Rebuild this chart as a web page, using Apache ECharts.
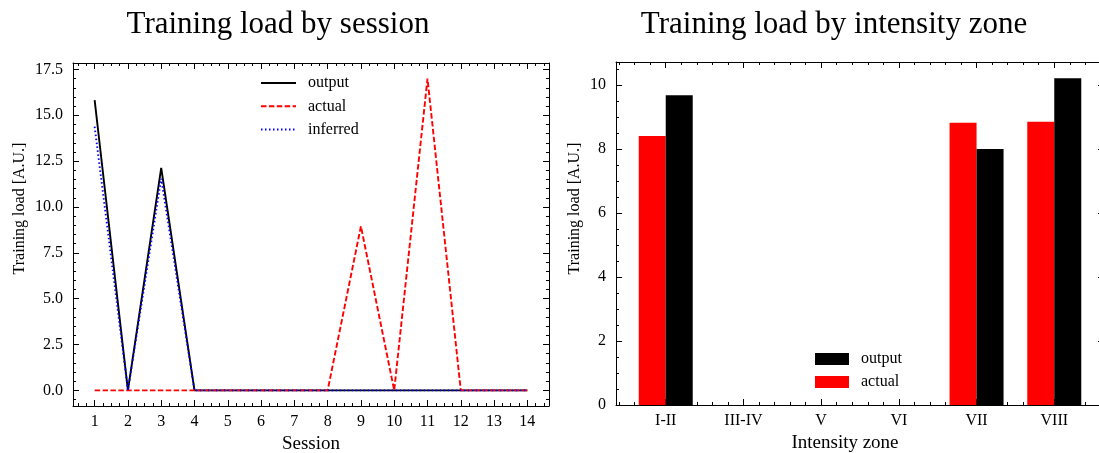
<!DOCTYPE html>
<html>
<head>
<meta charset="utf-8">
<script src="https://cdn.jsdelivr.net/npm/echarts@6/dist/echarts.min.js"></script>
<style>
html, body { margin: 0; padding: 0; background: #fff; overflow: hidden; }
#chart { width: 1099px; height: 453px; }
</style>
</head>
<body>
<div id="chart"></div>
<script>
var sessions = [1, 2, 3, 4, 5, 6, 7, 8, 9, 10, 11, 12, 13, 14];
var sessionOutput = [15.83, 0, 12.13, 0, 0, 0, 0, 0, 0, 0, 0, 0, 0, 0];
var sessionActual = [0, 0, 0, 0, 0, 0, 0, 0, 8.95, 0, 17.0, 0, 0, 0];
var sessionInferred = [14.38, 0, 11.55, 0, 0, 0, 0, 0, 0, 0, 0, 0, 0, 0];

var zones = ['I-II', 'III-IV', 'V', 'VI', 'VII', 'VIII'];
var zoneActual = [8.41, 0, 0, 0, 8.82, 8.85];
var zoneOutput = [9.68, 0, 0, 0, 8.0, 10.21];

var leftYTicks = [0, 2.5, 5, 7.5, 10, 12.5, 15, 17.5];
var rightYTicks = [0, 2, 4, 6, 8, 10];

var FONT = 'Liberation Serif';

// tick positions between a and b with a given step, optionally skipping multiples of "skip"
function steps(a, b, step, skip) {
    var out = [];
    for (var v = a; v <= b + 1e-9; v += step) {
        var r = Math.round(v * 1000) / 1000;
        if (skip && Math.abs(r / skip - Math.round(r / skip)) < 1e-6) continue;
        out.push(r);
    }
    return out;
}

var xAxes = [];
var yAxes = [];

// one side of a frame: major ticks axis + minor ticks axis
function side(list, grid, pos, min, max, major, minor, extra) {
    var main = {
        type: 'value', gridIndex: grid, position: pos, min: min, max: max,
        splitLine: { show: false },
        axisLine: { show: true, onZero: false, lineStyle: { color: '#000', width: 1 } },
        axisTick: { show: true, inside: true, length: 6, customValues: major, lineStyle: { color: '#000', width: 1 } },
        axisLabel: { show: false }
    };
    if (extra) {
        for (var k in extra) main[k] = extra[k];
    }
    list.push(main);
    list.push({
        type: 'value', gridIndex: grid, position: pos, min: min, max: max,
        splitLine: { show: false },
        axisLine: { show: false, onZero: false },
        axisTick: { show: true, inside: true, length: 3, customValues: minor, lineStyle: { color: '#000', width: 1 } },
        axisLabel: { show: false }
    });
}

function labels(vals, fmt, margin) {
    return {
        show: true, customValues: vals, margin: margin, formatter: fmt,
        fontFamily: FONT, fontSize: 16, color: '#000'
    };
}

// left chart
var lxMajor = sessions;
var lxMinor = steps(0.5, 14.5, 0.25, 1);
var lyMajor = leftYTicks;
var lyMinor = steps(-0.5, 17.5, 0.5, 2.5);
side(xAxes, 0, 'bottom', 0.35, 14.65, lxMajor, lxMinor, {
    axisLabel: labels(lxMajor, function (v) { return String(Math.round(v)); }, 8),
    name: 'Session', nameLocation: 'middle', nameGap: 24,
    nameTextStyle: { fontFamily: FONT, fontSize: 19, color: '#000' }
});
side(xAxes, 0, 'top', 0.35, 14.65, lxMajor, lxMinor);
side(yAxes, 0, 'left', -0.85, 17.85, lyMajor, lyMinor, {
    axisLabel: labels(lyMajor, function (v) { return v.toFixed(1); }, 10),
    name: 'Training load [A.U.]', nameLocation: 'middle', nameGap: 45, nameRotate: 90,
    nameTextStyle: { fontFamily: FONT, fontSize: 16, color: '#000', padding: [0, 0, 0, 52] }
});
side(yAxes, 0, 'right', -0.85, 17.85, lyMajor, lyMinor);

// right chart
var rxMajor = [0, 1, 2, 3, 4, 5];
var rxMinor = steps(-0.6, 5.6, 0.2, 1);
var ryMinor = steps(0.5, 10.5, 0.5, 2);
side(xAxes, 1, 'bottom', -0.64, 5.64, rxMajor, rxMinor, {
    axisLabel: labels(rxMajor, function (v) { return zones[Math.round(v)]; }, 8),
    name: 'Intensity zone', nameLocation: 'middle', nameGap: 24,
    nameTextStyle: { fontFamily: FONT, fontSize: 19, color: '#000', padding: [0, 30, 0, 0] }
});
side(xAxes, 1, 'top', -0.64, 5.64, rxMajor, rxMinor);
side(yAxes, 1, 'left', 0, 10.72, rightYTicks, ryMinor, {
    axisLabel: labels(rightYTicks, function (v) { return String(v); }, 10),
    name: 'Training load [A.U.]', nameLocation: 'middle', nameGap: 33, nameRotate: 90,
    nameTextStyle: { fontFamily: FONT, fontSize: 16, color: '#000', padding: [0, 0, 0, 50] }
});
side(yAxes, 1, 'right', 0, 10.72, rightYTicks, ryMinor);

function pairs(xs, ys) {
    return xs.map(function (x, i) { return [x, ys[i]]; });
}

var zoneIdx = zones.map(function (z, i) { return i; });

var option = {
    animation: false,
    backgroundColor: '#fff',
    title: [
        { text: 'Training load by session', left: 273, top: 4, textAlign: 'center',
          textStyle: { fontFamily: FONT, fontSize: 31, fontWeight: 'normal', color: '#000' } },
        { text: 'Training load by intensity zone', left: 829, top: 4, textAlign: 'center',
          textStyle: { fontFamily: FONT, fontSize: 31, fontWeight: 'normal', color: '#000' } }
    ],
    grid: [
        { left: 73, top: 63, width: 476, height: 343, outerBoundsMode: 'none' },
        { left: 616, top: 62, width: 488, height: 343, outerBoundsMode: 'none' }
    ],
    legend: [
        {
            orient: 'vertical', left: 260, top: 75, padding: 0,
            itemWidth: 35, itemHeight: 14, itemGap: 7.3,
            itemStyle: { opacity: 0 },
            data: ['output', 'actual', 'inferred'],
            textStyle: { fontFamily: FONT, fontSize: 16, color: '#000', lineHeight: 16, padding: [0, 0, 0, 7] }
        },
        {
            orient: 'vertical', left: 815, top: 351, padding: 0,
            itemWidth: 34, itemHeight: 12, itemGap: 7, icon: 'rect',
            data: ['output (zone)', 'actual (zone)'],
            formatter: function (name) { return name.replace(' (zone)', ''); },
            textStyle: { fontFamily: FONT, fontSize: 16, color: '#000', lineHeight: 16, padding: [0, 0, 0, 7] }
        }
    ],
    xAxis: xAxes,
    yAxis: yAxes,
    series: [
        {
            name: 'output', type: 'line', xAxisIndex: 0, yAxisIndex: 0,
            data: pairs(sessions, sessionOutput), symbol: 'none',
            color: '#000', lineStyle: { color: '#000', width: 1.9 }
        },
        {
            name: 'actual', type: 'line', xAxisIndex: 0, yAxisIndex: 0,
            data: pairs(sessions, sessionActual), symbol: 'none',
            color: '#ff0000', lineStyle: { color: '#ff0000', width: 1.9, type: [5.5, 2.4] }
        },
        {
            name: 'inferred', type: 'line', xAxisIndex: 0, yAxisIndex: 0,
            data: pairs(sessions, sessionInferred), symbol: 'none',
            color: '#0000ff', lineStyle: { color: '#0000ff', width: 1.9, type: [1.5, 2.5] }
        },
        {
            name: 'actual (zone)', type: 'bar', xAxisIndex: 4, yAxisIndex: 4,
            data: pairs(zoneIdx, zoneActual), barWidth: 27, barGap: '0%',
            itemStyle: { color: '#ff0000' }
        },
        {
            name: 'output (zone)', type: 'bar', xAxisIndex: 4, yAxisIndex: 4,
            data: pairs(zoneIdx, zoneOutput), barWidth: 27, barGap: '0%',
            itemStyle: { color: '#000' }
        }
    ]
};

var chart = echarts.init(document.getElementById('chart'), null, { renderer: 'canvas' });
chart.setOption(option);
</script>
</body>
</html>
